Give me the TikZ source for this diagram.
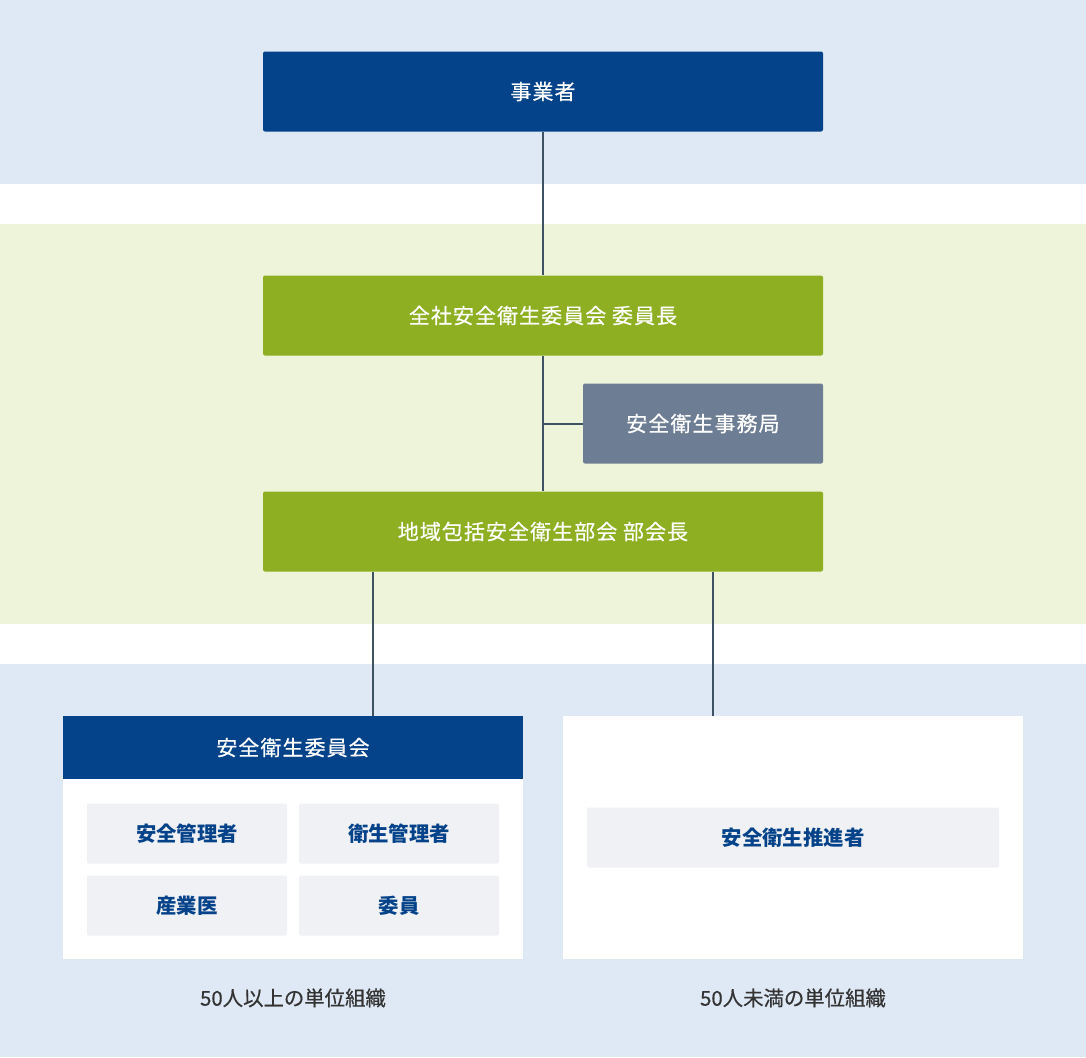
\documentclass[tikz,border=0pt]{standalone}
\usepackage{fontspec}
\setmainfont{Noto Sans CJK JP}
\newfontfamily\boxfont{Noto Sans CJK JP}[LetterSpace=5,FakeBold=0.6]
\newfontfamily\labelfont{Noto Sans CJK JP}[FakeBold=0.5]
\usetikzlibrary{positioning}
\definecolor{ownerblue}{RGB}{4,66,138}
\definecolor{cmtgreen}{RGB}{142,175,34}
\definecolor{officegray}{RGB}{109,125,147}
\definecolor{bandblue}{RGB}{223,233,245}
\definecolor{bandgreen}{RGB}{238,244,218}
\definecolor{cellgray}{RGB}{240,241,244}
\definecolor{linkline}{RGB}{62,82,100}
\definecolor{labeltext}{RGB}{51,51,51}

\begin{document}
\begin{tikzpicture}[
    x=0.5pt, y=-0.5pt,
    orgbox/.style={rectangle, rounded corners=1pt, fill=ownerblue, text=white, inner sep=0pt,
                 minimum width=280pt, minimum height=40pt, align=center, font=\boxfont\fontsize{10.5}{12}\selectfont},
    greenbox/.style={orgbox, fill=cmtgreen},
    officebox/.style={orgbox, fill=officegray, minimum width=120pt},
    unitbox/.style={rectangle, fill=white, minimum width=230pt, minimum height=121.5pt, inner sep=0pt},
    headbox/.style={orgbox, rounded corners=0pt, minimum width=230pt, minimum height=31.5pt},
    cellbox/.style={rectangle, rounded corners=1pt, fill=cellgray, text=ownerblue, inner sep=0pt,
                 minimum width=100pt, minimum height=30pt, font=\fontsize{10.2}{12}\selectfont\bfseries},
    unitlabel/.style={text=labeltext, font=\labelfont\fontsize{10.2}{12}\selectfont},
    link/.style={line width=1pt, draw=linkline}
]
\useasboundingbox (0,0) rectangle (1086,1057);
% background bands
\fill[bandblue] (0,0) rectangle (1086,184);
\fill[bandgreen] (0,224) rectangle (1086,624);
\fill[bandblue] (0,664) rectangle (1086,1057);

\node[orgbox] (owner) at (543,91.5) {事業者};
\node[greenbox] (chair) at (543,315.5) {全社安全衛生委員会 委員長};
\node[officebox] (office) at (703,423.5) {安全衛生事務局};
\node[greenbox] (section) at (543,531.5) {地域包括安全衛生部会 部会長};

% unit organisations
\node[unitbox] (bigunit) at (293,837.5) {};
\node[headbox, anchor=north] (committee) at (bigunit.north) {安全衛生委員会};
\node[cellbox] (safemgr) at (187,833.5) {安全管理者};
\node[cellbox] (healthmgr) at (399,833.5) {衛生管理者};
\node[cellbox] (doctor) at (187,905.5) {産業医};
\node[cellbox] (member) at (399,905.5) {委員};
\node[unitbox] (smallunit) at (793,837.5) {};
\node[cellbox, minimum width=206pt] (promoter) at (smallunit) {安全衛生推進者};
\node[unitlabel, below=11pt of bigunit] (biglabel) {50人以上の単位組織};
\node[unitlabel, below=11pt of smallunit] (smalllabel) {50人未満の単位組織};

\draw[link] (owner) -- (chair);
\draw[link] (chair) -- (section);
\draw[link] (office.west) -- (office.west -| chair.south);
\draw[link] ([xshift=40pt]committee.north |- section.south) -- ([xshift=40pt]committee.north);
\draw[link] ([xshift=-40pt]smallunit.north |- section.south) -- ([xshift=-40pt]smallunit.north);
\end{tikzpicture}
\end{document}
